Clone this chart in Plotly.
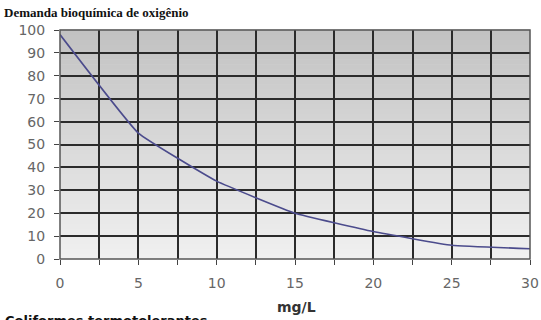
import plotly.graph_objects as go

x_vals = [0, 5, 10, 15, 20, 25, 30]
y_vals = [98, 55, 34, 20, 12, 6, 4.5]
x_ticks = [0, 5, 10, 15, 20, 25, 30]
x_minor = [2.5, 7.5, 12.5, 17.5, 22.5, 27.5]
y_ticks = [0, 10, 20, 30, 40, 50, 60, 70, 80, 90, 100]

W, H = 541, 320
L, R, T, B = 60, 11, 30, 61
PW, PH = W - L - R, H - T - B

fig = go.Figure()
fig.add_trace(go.Scatter(x=x_vals, y=y_vals, mode="lines",
                         line=dict(color="#4b4b8c", width=1.6, shape="spline", smoothing=0.3),
                         showlegend=False, hoverinfo="skip"))

# gradient background bands
n = 46
shapes = []
for i in range(n):
    t = i / (n - 1)
    c0 = (0xf0, 0xf0, 0xf0)
    c1 = (0xc2, 0xc2, 0xc2)
    c = tuple(int(round(a + (b - a) * t)) for a, b in zip(c0, c1))
    shapes.append(dict(type="rect", xref="paper", yref="paper", layer="below",
                       x0=0, x1=1, y0=i / n, y1=(i + 1) / n + 0.002,
                       line=dict(width=0), fillcolor="rgb(%d,%d,%d)" % c))
shapes.append(dict(type="rect", xref="paper", yref="paper", x0=0, x1=1, y0=0, y1=1,
                   line=dict(color="#555555", width=1.5), layer="above"))

fig.update_layout(
    width=W, height=H,
    margin=dict(l=L, r=R, t=T, b=B),
    paper_bgcolor="white", plot_bgcolor="#dddddd",
    shapes=shapes,
    font=dict(family="DejaVu Sans", size=14, color="#555555"),
    annotations=[
        dict(text="<b>Demanda bioquímica de oxigênio</b>", xref="paper", yref="paper",
             x=-L / PW, y=1 + T / PH, xanchor="left", yanchor="middle", showarrow=False,
             xshift=2, yshift=-13,
             font=dict(family="Liberation Serif", size=13, color="#111111")),
        dict(text="<b>mg/L</b>", xref="paper", yref="paper",
             x=0.5, y=0, xanchor="center", yanchor="middle", showarrow=False,
             xshift=1, yshift=-48,
             font=dict(family="DejaVu Sans", size=14, color="#333333")),
        dict(text="<b>Coliformes termotolerantes</b>", xref="paper", yref="paper",
             x=-L / PW, y=-B / PH, xanchor="left", yanchor="middle", showarrow=False,
             xshift=3, yshift=0,
             font=dict(family="DejaVu Sans", size=13, color="#111111")),
    ],
)
fig.update_xaxes(range=[0, 30], tickvals=x_ticks, ticks="outside", ticklen=5,
                 tickcolor="#444", showgrid=True, gridcolor="#2b2b2b", gridwidth=2,
                 zeroline=False, automargin=False, ticklabelstandoff=6,
                 minor=dict(showgrid=True, tickvals=x_minor, ticks="outside", ticklen=5,
                            tickcolor="#444", gridcolor="#2b2b2b", gridwidth=2),
                 tickfont=dict(size=14, color="#666666"))
fig.update_yaxes(range=[0, 100], tickvals=y_ticks, ticks="outside", ticklen=5,
                 tickcolor="#444", showgrid=True, gridcolor="#2b2b2b", gridwidth=2,
                 zeroline=False, ticklabelstandoff=6, automargin=False,
                 tickfont=dict(size=14, color="#666666"))

fig.write_html("out.html", config={"displayModeBar": False},
               post_script="document.body.style.margin='0';document.body.style.overflow='hidden';")
